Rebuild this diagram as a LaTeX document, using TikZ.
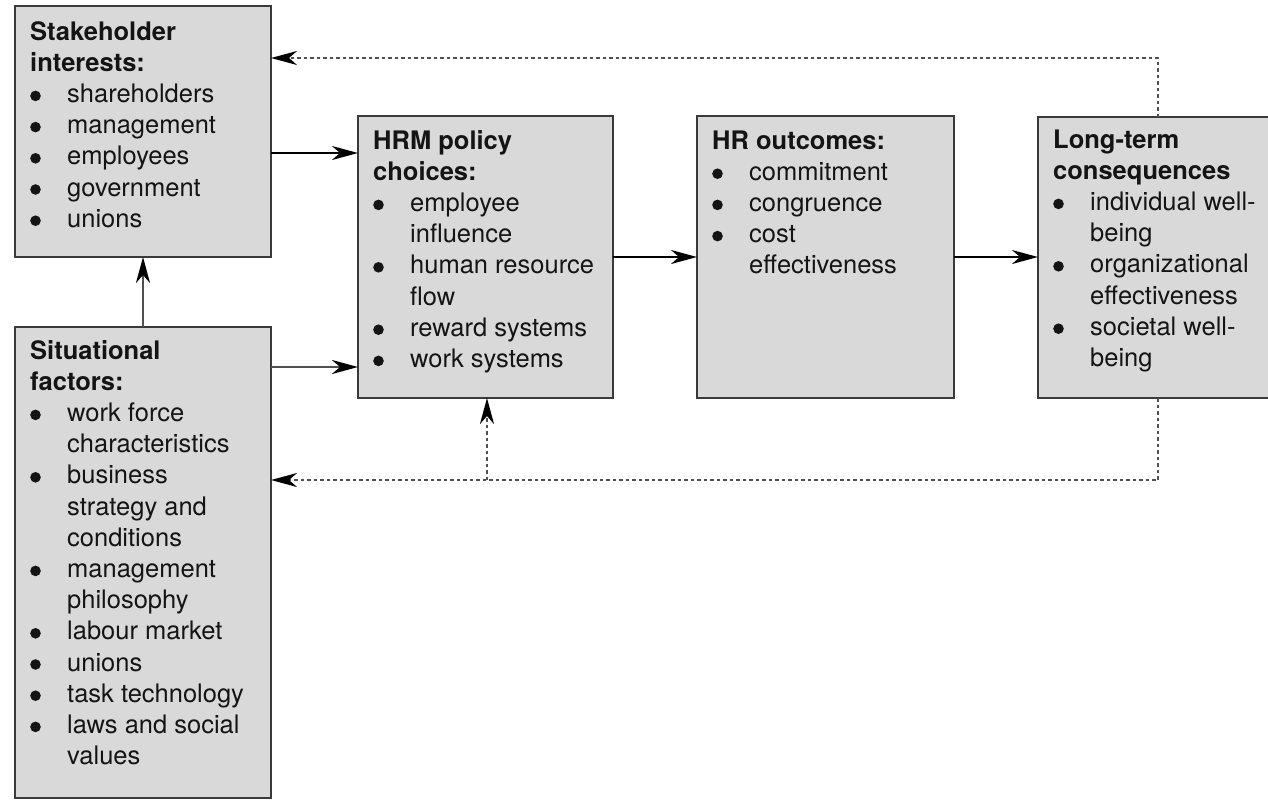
\documentclass[tikz,border=0pt]{standalone}
\usepackage{fontspec}
\setmainfont{TeX Gyre Heros}
\usetikzlibrary{arrows.meta}

\definecolor{boxfill}{HTML}{D9D9D9}
\definecolor{boxline}{HTML}{3A3A3A}
\definecolor{fbline}{HTML}{505050}
\definecolor{inkc}{HTML}{141414}

% round list dot, centred above the baseline
\newcommand{\listdot}{\tikz[x=1pt,y=1pt,baseline=0pt]\fill[inkc] (5.3,6.5) circle[radius=5.3];}
% heading line(s) and bulleted items with a hanging indent
\newcommand{\boxhead}[1]{\noindent\textbf{#1}\par}
\newcommand{\bul}[1]{\hangindent=37pt\hangafter=1\noindent\makebox[37pt][l]{\listdot}#1\par}
\newcommand{\boxtext}[1]{\parbox[t]{320pt}{\raggedright\hyphenpenalty=10000 #1}}

\begin{document}
\begin{tikzpicture}[x=1pt,y=-1pt,
  panel/.style={draw=boxline, fill=boxfill, line width=2.4pt, rectangle,
    anchor=north west, inner sep=0pt, outer sep=0pt},
  paneltext/.style={anchor=base west, inner sep=0pt, text=inkc,
    font=\fontsize{25.5pt}{31.2pt}\selectfont},
  arr/.style={-{Stealth[length=26pt,width=14pt,inset=8pt]}, line width=2.2pt, draw=black},
  grayarr/.style={-{Stealth[length=26pt,width=14pt,inset=8pt,color=black]},
    line width=2.6pt, draw=fbline},
  fb/.style={-{Stealth[length=26pt,width=14pt,inset=8pt,color=black]},
    line width=2.2pt, draw=fbline, dash pattern=on 3.5pt off 3pt}
]
\useasboundingbox (0,0) rectangle (1268,801);

% panels
\node[panel, minimum width=256pt, minimum height=251pt] (sh)  at (15,6)    {};
\node[panel, minimum width=256pt, minimum height=471pt] (sit) at (15,327)  {};
\node[panel, minimum width=255pt, minimum height=282pt] (hrm) at (358,116) {};
\node[panel, minimum width=257pt, minimum height=282pt] (out) at (697,116) {};
\node[panel, minimum width=256pt, minimum height=281pt] (lt)  at (1038,117) {};

% panel texts
\node[paneltext] (shtxt) at ([xshift=15pt,yshift=-34pt]sh.north west) {\boxtext{%
  \boxhead{Stakeholder\newline interests:}%
  \bul{shareholders}\bul{management}\bul{employees}\bul{government}\bul{unions}}};

\node[paneltext] (sittxt) at ([xshift=15pt,yshift=-32pt]sit.north west) {\boxtext{%
  \boxhead{Situational\newline factors:}%
  \bul{work force\newline characteristics}%
  \bul{business\newline strategy and\newline conditions}%
  \bul{management\newline philosophy}%
  \bul{labour market}\bul{unions}\bul{task technology}%
  \bul{laws and social\newline values}}};

\node[paneltext] (hrmtxt) at ([xshift=15pt,yshift=-33pt]hrm.north west) {\boxtext{%
  \boxhead{HRM policy\newline choices:}%
  \bul{employee\newline influence}%
  \bul{human resource\newline flow}%
  \bul{reward systems}\bul{work systems}}};

\node[paneltext] (outtxt) at ([xshift=15pt,yshift=-33pt]out.north west) {\boxtext{%
  \boxhead{HR outcomes:}%
  \bul{commitment}\bul{congruence}\bul{cost\newline effectiveness}}};

\node[paneltext] (lttxt) at ([xshift=15pt,yshift=-31pt]lt.north west) {\boxtext{%
  \boxhead{Long-term\newline consequences}%
  \bul{individual well-\newline being}%
  \bul{organizational\newline effectiveness}%
  \bul{societal well-\newline being}}};

% connector end points on the panel sides
\path ([yshift=-147pt]sh.north east) coordinate (shout)
      ([yshift=-40pt]sit.north east) coordinate (sitout)
      ([xshift=-8pt]lt.north) coordinate (ltup)
      ([xshift=-8pt]lt.south) coordinate (ltdown)
      ([yshift=-52pt]sh.north east) coordinate (shin)
      ([yshift=-153pt]sit.north east) coordinate (sitin)
      ([xshift=1.5pt]hrm.south) coordinate (hrmin);

% main flow
\draw[arr] (shout) -- (shout -| hrm.west);
\draw[grayarr] (sitout) -- (sitout -| hrm.west);
\draw[grayarr] (sit.north) -- (sh.south);
\draw[arr] (hrm.east) -- (out.west);
\draw[arr] (out.east) -- (out.east -| lt.west);

% feedback loops
\draw[fb] (ltup) |- (shin);
\draw[fb] (ltdown) |- (sitin);
\draw[fb] (sitin -| hrmin) -- (hrmin);
\end{tikzpicture}
\end{document}
